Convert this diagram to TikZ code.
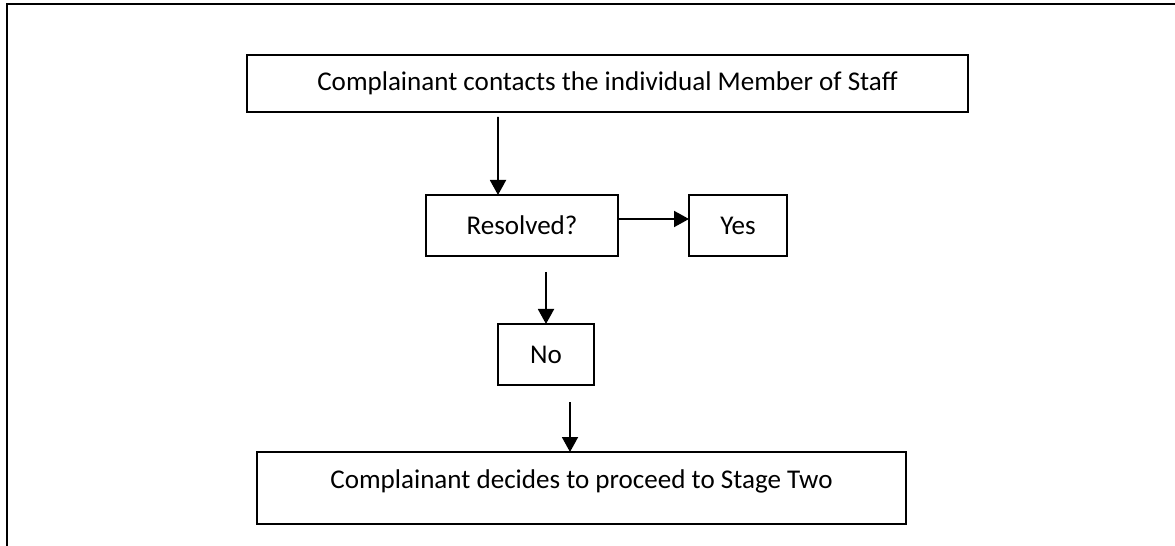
\documentclass[tikz,border=0pt]{standalone}
\usepackage{fontspec}
\setmainfont{Carlito}
\usepackage{tikz}
\usetikzlibrary{arrows.meta, positioning}
\tikzset{
  step box/.style={rectangle, draw, line width=1.1pt, inner sep=0pt, outer sep=0pt,
                   font=\fontsize{15.4}{18}\selectfont},
  flow edge/.style={-{Triangle[length=3mm, width=3.2mm]}, line width=1.1pt},
}
\begin{document}
\begin{tikzpicture}
  \useasboundingbox (0,0) rectangle (23.5,-10.92);
  % page frame
  \draw[line width=1.1pt] (23.5,-0.08) -- (0.14,-0.08) -- (0.14,-10.92);

  \node[step box, minimum width=14.42cm, minimum height=1.14cm] (contact) at (12.15,-1.67)
    {Complainant contacts the individual Member of Staff};
  \node[step box, minimum width=3.84cm, minimum height=1.22cm,
        below=1.66cm of contact, xshift=-1.71cm] (resolved) {Resolved?};
  \node[step box, minimum width=1.96cm, minimum height=1.22cm,
        right=1.42cm of resolved] (yes) {Yes};
  \node[step box, minimum width=1.92cm, minimum height=1.22cm,
        below=1.36cm of resolved, xshift=0.48cm] (no) {No};
  \node[step box, minimum width=12.98cm, text height=0.72cm, text depth=0.72cm,
        below=1.34cm of no, xshift=0.71cm] (stage) {Complainant decides to proceed to Stage Two};

  \draw[flow edge] ([xshift=-2.19cm, yshift=-0.1cm]contact.south) -- ([xshift=-0.48cm]resolved.north);
  \draw[flow edge] ([yshift=0.13cm]resolved.east) -- ([yshift=0.13cm]yes.west);
  \draw[flow edge] ([xshift=0.48cm, yshift=-0.32cm]resolved.south) -- (no.north);
  \draw[flow edge] ([xshift=0.48cm, yshift=-0.34cm]no.south) -- ([xshift=-0.23cm]stage.north);
\end{tikzpicture}
\end{document}
